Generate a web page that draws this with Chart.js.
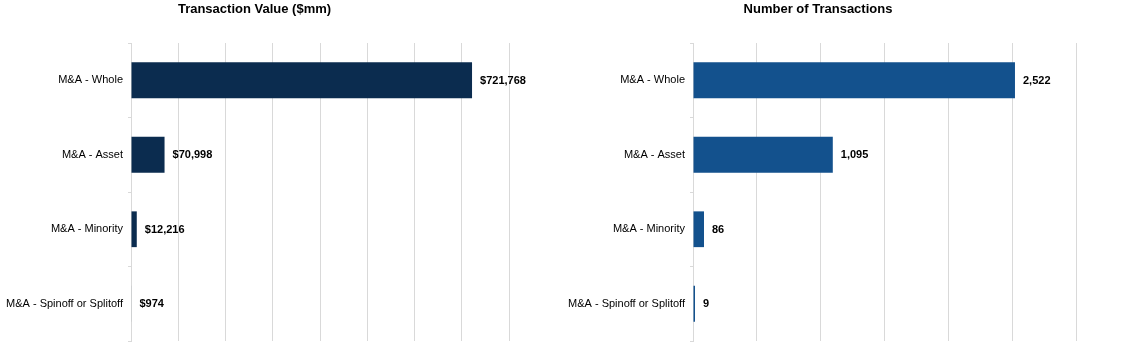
<!DOCTYPE html>
<html>
<head>
<meta charset="utf-8">
<script src="https://cdn.jsdelivr.net/npm/chart.js@4/dist/chart.umd.min.js"></script>
<style>
  html, body { margin: 0; padding: 0; background: #fff; }
  body { width: 1134px; height: 357px; position: relative; overflow: hidden; }
  canvas { position: absolute; top: 0; }
  #c1 { left: 0; }
  #c2 { left: 560px; }
</style>
</head>
<body>
<canvas id="c1" width="550" height="357"></canvas>
<canvas id="c2" width="544" height="357"></canvas>
<script>
const categories = ["M&A - Whole", "M&A - Asset", "M&A - Minority", "M&A - Spinoff or Splitoff"];
const transactionValue = [721768, 70998, 12216, 974];
const transactionCount = [2522, 1095, 86, 9];
const valueAxisMax = 800000;
const valueAxisStep = 100000;
const countAxisMax = 3000;
const countAxisStep = 500;
const titleValue = "Transaction Value ($mm)";
const titleCount = "Number of Transactions";

const FONT = "'Liberation Sans', Arial, sans-serif";
const GRID = "#d9d9d9";

const barLabels = {
  id: 'barLabels',
  afterDatasetsDraw(chart, args, opts) {
    const ctx = chart.ctx;
    const meta = chart.getDatasetMeta(0);
    const data = chart.data.datasets[0].data;
    ctx.save();
    ctx.font = "bold 11px " + FONT;
    ctx.fillStyle = "#000";
    ctx.textAlign = "left";
    ctx.textBaseline = "middle";
    meta.data.forEach((el, i) => {
      const txt = (opts.prefix || "") + data[i].toLocaleString('en-US');
      ctx.fillText(txt, el.x + 8, el.y + 0.5);
    });
    ctx.restore();
  }
};

function makeChart(id, values, color, title, max, step, yWidth, padRight, prefix, minLen) {
  return new Chart(document.getElementById(id), {
    type: 'bar',
    data: {
      labels: categories,
      datasets: [{
        data: values,
        backgroundColor: color,
        borderWidth: 0,
        barPercentage: 0.48,
        categoryPercentage: 1.0,
        minBarLength: minLen
      }]
    },
    options: {
      indexAxis: 'y',
      responsive: false,
      animation: false,
      devicePixelRatio: 1,
      layout: { padding: { left: 0, right: padRight, top: 0, bottom: 16 } },
      plugins: {
        legend: { display: false },
        tooltip: { enabled: false },
        title: {
          display: true,
          text: title,
          color: "#000",
          font: { family: FONT, size: 13, weight: 'bold', lineHeight: 1.2 },
          padding: { top: 1.5, bottom: 25.9 }
        },
        barLabels: { prefix: prefix }
      },
      scales: {
        x: {
          min: 0,
          max: max,
          ticks: { display: false, stepSize: step },
          grid: { color: GRID, drawTicks: false, lineWidth: 1 },
          border: { display: false },
          afterFit(scale) { scale.height = 0; }
        },
        y: {
          offset: true,
          ticks: {
            color: "#000",
            font: { family: FONT, size: 11 },
            padding: 5
          },
          grid: { color: GRID, drawOnChartArea: false, drawTicks: true, tickLength: 3, offset: true },
          border: { display: true, color: GRID },
          afterFit(scale) { scale.width = yWidth; }
        }
      }
    },
    plugins: [barLabels]
  });
}

makeChart('c1', transactionValue, "#0b2c4f", titleValue, valueAxisMax, valueAxisStep, 131, 41, "$", 0);
makeChart('c2', transactionCount, "#13518d", titleCount, countAxisMax, countAxisStep, 133, 28, "", 2);
</script>
</body>
</html>
